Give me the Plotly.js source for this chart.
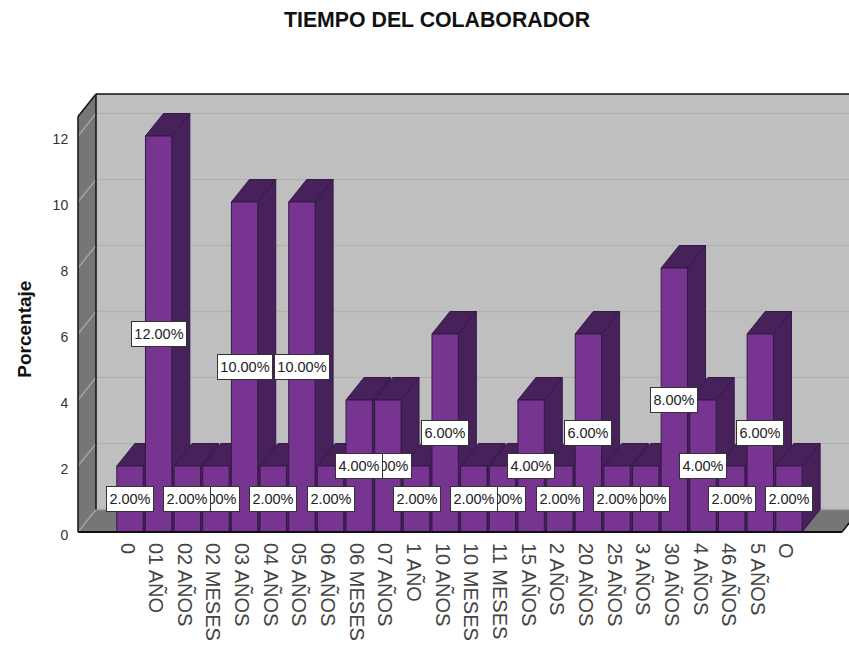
<!DOCTYPE html>
<html><head><meta charset="utf-8">
<script src="https://cdn.plot.ly/plotly-3.0.1.min.js"></script>
<style>html,body{margin:0;padding:0;background:#fff}#c{width:849px;height:648px}</style>
</head><body><div id="c"></div>
<script>
const categories = ["0","01 AÑO","02 AÑOS","02 MESES","03 AÑOS","04 AÑOS","05 AÑOS","06 AÑOS","06 MESES","07 AÑOS","1 AÑO","10 AÑOS","10 MESES","11 MESES","15 AÑOS","2 AÑOS","20 AÑOS","25 AÑOS","3 AÑOS","30 AÑOS","4 AÑOS","46 AÑOS","5 AÑOS","O"];
const percentages = [2,12,2,2,10,2,10,2,4,4,2,6,2,2,4,2,6,2,2,8,4,2,6,2];
const yTicks = [0,2,4,6,8,10,12];
const titleText = "TIEMPO DEL COLABORADOR";
const yTitleText = "Porcentaje";

const idx = categories.map((_, i) => i);
const W = 849, H = 648;
const pxPerCat = 28.65, pxPerVal = 33.04, x0px = 130, y0px = 532.5;
const X = p => (p - x0px) / pxPerCat;
const Y = p => (y0px - p) / pxPerVal;
const dx = 18 / pxPerCat, dy = 22.5 / pxPerVal, bw = 0.92;
const xL = X(78), xR = X(842), yTop = Y(94);
const poly = pts => "M" + pts.map(p => p[0] + "," + p[1]).join("L") + "Z";
const fillShape = (pts, fill, line, lw) => ({type:"path", xref:"x", yref:"y", layer:"below", path:poly(pts), fillcolor:fill, line:{color:line||fill, width:lw===undefined?1:lw}});
const lineShape = (a, b, c, w, layer) => ({type:"line", xref:"x", yref:"y", layer:layer||"below", x0:a[0], y0:a[1], x1:b[0], y1:b[1], line:{color:c, width:w}});

const WALL = "#bfbfbf", SIDE = "#767676", GRID = "#b2b2b2", GRID2 = "#a3a3a3";
const FRONT = "#773490", DARK = "#47215a", EDGE = "#351949";
const FONT = "Liberation Sans, Arial, sans-serif";
const shapes = [];
shapes.push(fillShape([[xL+dx,dy],[xR+dx+1,dy],[xR+dx+1,yTop],[xL+dx,yTop]], WALL, WALL, 0));
shapes.push(fillShape([[xL,0],[xL+dx,dy],[xL+dx,yTop],[xL,yTop-dy]], SIDE, SIDE, 0));
shapes.push(fillShape([[xL,0],[xR,0],[xR+dx,dy],[xL+dx,dy]], SIDE, SIDE, 0));
yTicks.forEach(v => {
  if (v === 0) return;
  shapes.push(lineShape([xL+dx, v+dy], [xR+dx+1, v+dy], GRID, 1.5));
  shapes.push(lineShape([xL, v], [xL+dx, v+dy], GRID2, 1.5));
});
shapes.push(lineShape([xL, 0], [xL+dx, dy], GRID2, 1.5));
shapes.push(lineShape([xL+dx, dy], [xR+dx+1, dy], GRID2, 1.5));
shapes.push(lineShape([xL+dx, dy], [xL+dx, yTop], "#111", 1.5));
shapes.push(lineShape([xL+dx, yTop], [xR+dx+1, yTop], "#111", 1.5));
shapes.push(lineShape([xL, 0], [xL, yTop-dy], "#111", 1.5));
shapes.push(lineShape([xL, yTop-dy], [xL+dx, yTop], "#111", 1.5));
shapes.push(lineShape([xR, 0], [xR+dx, dy], "#111", 1.5));
percentages.forEach((v, i) => {
  const a = i - bw/2, b = i + bw/2;
  shapes.push(fillShape([[b,0],[b+dx,dy],[b+dx,v+dy],[b,v]], DARK, EDGE, 1));
  shapes.push(fillShape([[a,v],[b,v],[b+dx,v+dy],[a+dx,v+dy]], DARK, EDGE, 1));
});
shapes.push(lineShape([xL, 0], [xR, 0], "#111", 2, "above"));

const annotations = percentages.map((v, i) => ({
  xref:"x", yref:"y", x:i, y:v/2, text:v.toFixed(2)+"%", showarrow:false,
  font:{family:FONT, size:14.5, color:"#222"},
  bgcolor:"#fff", bordercolor:"#333", borderwidth:1, borderpad:2,
  width:v>=10?50:42, height:20, align:"center", valign:"middle"
})).reverse();
annotations.unshift({
  xref:"paper", yref:"paper", x:25/W, xanchor:"center",
  y:(H-329-(H-534.5))/(534.5-92), yanchor:"middle", textangle:-90, showarrow:false,
  text:"<b>"+yTitleText+"</b>", font:{family:FONT, size:19, color:"#111"}
});
annotations[0].x = (25-76)/(849-76);
annotations[0].y = (534.5-329)/(534.5-92);

Plotly.newPlot("c", [{
  type:"bar", x:idx, y:percentages, width:bw,
  marker:{color:FRONT, line:{color:EDGE, width:1}},
  hoverinfo:"skip", showlegend:false
}], {
  width:W, height:H, autosize:false, showlegend:false,
  paper_bgcolor:"#fff", plot_bgcolor:"#fff",
  margin:{l:76, r:0, t:92, b:H-534.5, pad:0},
  title:{text:"<b>"+titleText+"</b>", x:437/W, xanchor:"center", y:1-20/H, yanchor:"middle",
    font:{family:FONT, size:21.3, color:"#111"}},
  bargap:0,
  xaxis:{type:"linear", range:[X(76), X(849)], tickmode:"array", tickvals:idx, ticktext:categories,
    tickangle:90, ticks:"outside", ticklen:4, tickcolor:"rgba(0,0,0,0)", ticklabelshift:-3, showgrid:false, zeroline:false, showline:false,
    tickfont:{family:FONT, size:20, color:"#444"}, automargin:false},
  yaxis:{type:"linear", range:[Y(534.5), Y(92)], tickmode:"array", tickvals:yTicks, ticktext:yTicks.map(String),
    ticks:"outside", ticklen:4, tickcolor:"rgba(0,0,0,0)", ticklabelshift:3, showgrid:false, zeroline:false, showline:false,
    tickfont:{family:FONT, size:14, color:"#333"}, automargin:false},
  shapes, annotations
}, {displayModeBar:false, staticPlot:true});
</script></body></html>
